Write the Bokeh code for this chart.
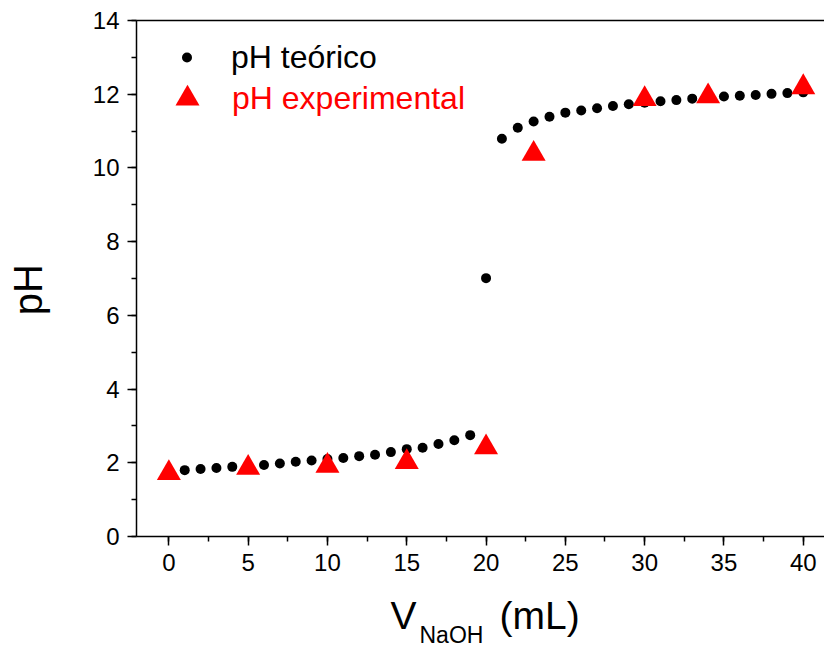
from bokeh.plotting import figure
from bokeh.layouts import column
from bokeh.models import (Legend, LegendItem, Label, LinearAxis, FixedTicker,
                          Range1d, SingleIntervalTicker)
from bokeh.embed import file_html
from bokeh.resources import INLINE

# ---- data ----
v_teo = [0, 1, 2, 3, 4, 5, 6, 7, 8, 9, 10, 11, 12, 13, 14, 15, 16, 17, 18, 19, 20,
         21, 22, 23, 24, 25, 26, 27, 28, 29, 30, 31, 32, 33, 34, 35, 36, 37, 38, 39, 40]
ph_teo = [1.77, 1.80, 1.83, 1.86, 1.89, 1.92, 1.94, 1.98, 2.03, 2.06, 2.10, 2.13, 2.18,
          2.22, 2.29, 2.37, 2.41, 2.51, 2.61, 2.75, 7.01,
          10.79, 11.09, 11.26, 11.39, 11.50, 11.56, 11.62, 11.68, 11.73, 11.77, 11.81,
          11.84, 11.88, 11.91, 11.94, 11.96, 11.98, 12.01, 12.03, 12.05]

v_exp = [0, 5, 10, 15, 20, 23, 30, 34, 40]
ph_exp = [1.72, 1.86, 1.92, 2.02, 2.42, 10.38, 11.87, 11.94, 12.19]

x_ticks_interval = 5
y_ticks_interval = 2

FONT = "Liberation Sans"
NBSP = "\u00a0"

p = figure(width=824, height=575, output_backend="svg", toolbar_location=None,
           x_range=Range1d(-2.04, 41.34), y_range=Range1d(0, 14),
           min_border_left=136, min_border_right=0, min_border_top=20,
           min_border_bottom=39)
p.grid.visible = False
p.outline_line_color = None
p.background_fill_color = "white"
p.border_fill_color = "white"

p.xaxis.ticker = SingleIntervalTicker(interval=x_ticks_interval, num_minor_ticks=2)
p.yaxis.ticker = SingleIntervalTicker(interval=y_ticks_interval, num_minor_ticks=2)

for ax in (p.xaxis, p.yaxis):
    ax.axis_line_width = 1.5
    ax.axis_line_color = "black"
    ax.major_tick_line_width = 1.5
    ax.minor_tick_line_width = 1.5
    ax.major_tick_line_color = "black"
    ax.minor_tick_line_color = "black"
    ax.major_tick_out = 9
    ax.major_tick_in = 0
    ax.minor_tick_out = 5
    ax.minor_tick_in = 0
    ax.major_label_text_font = FONT
    ax.major_label_text_font_size = "24px"
    ax.major_label_text_color = "black"
    ax.major_label_standoff = 8

p.yaxis.axis_label = "pH" + NBSP + NBSP
p.yaxis.axis_label_text_font = FONT
p.yaxis.axis_label_text_font_size = "40px"
p.yaxis.axis_label_text_font_style = "normal"
p.yaxis.axis_label_text_color = "black"
p.yaxis.axis_label_standoff = 40

top = LinearAxis(ticker=FixedTicker(ticks=[]), major_tick_out=0, major_tick_in=0,
                 minor_tick_out=0, minor_tick_in=0, major_label_standoff=0,
                 axis_line_width=1.5, axis_line_color="black",
                 major_label_text_font_size="0px")
p.add_layout(top, "above")

r_teo = p.scatter(v_teo, ph_teo, marker="circle", size=10, fill_color="black",
                  line_color=None)
r_exp = p.scatter(v_exp, ph_exp, marker="triangle", size=24, fill_color="#ff0000",
                  line_color=None)

leg1 = Legend(items=[LegendItem(label="pH teórico", renderers=[r_teo])],
              location=(38, 459), glyph_width=25, glyph_height=40,
              label_standoff=32, padding=0, margin=0, spacing=0,
              border_line_color=None, background_fill_alpha=0,
              label_text_font=FONT, label_text_font_size="32px",
              label_text_color="black")
leg2 = Legend(items=[LegendItem(label="pH experimental", renderers=[r_exp])],
              location=(21, 408), glyph_width=60, glyph_height=60,
              label_standoff=15, padding=0, margin=0, spacing=0,
              border_line_color=None, background_fill_alpha=0,
              label_text_font=FONT, label_text_font_size="32px",
              label_text_color="#ff0000")
p.add_layout(leg1)
p.add_layout(leg2)

# x-axis title strip (V with subscript NaOH)
t = figure(width=824, height=73, output_backend="svg", toolbar_location=None,
           x_range=Range1d(0, 688), y_range=Range1d(0, 73),
           x_axis_type=None, y_axis_type=None,
           min_border_left=136, min_border_right=0, min_border_top=0,
           min_border_bottom=0)
t.grid.visible = False
t.outline_line_color = None
t.background_fill_color = "white"
t.border_fill_color = "white"

t.add_layout(Label(x=254, y=33, x_units="screen", y_units="screen", text="V",
                   text_font=FONT, text_font_size="39px", text_color="black",
                   text_align="left", text_baseline="alphabetic"))
t.add_layout(Label(x=283, y=14, x_units="screen", y_units="screen", text="NaOH",
                   text_font=FONT, text_font_size="23px", text_color="black",
                   text_align="left", text_baseline="alphabetic"))
t.add_layout(Label(x=363, y=33, x_units="screen", y_units="screen", text="(mL)",
                   text_font=FONT, text_font_size="39px", text_color="black",
                   text_align="left", text_baseline="alphabetic"))

layout = column(p, t, spacing=0)
open("out.html", "w", encoding="utf-8").write(file_html(layout, INLINE))
